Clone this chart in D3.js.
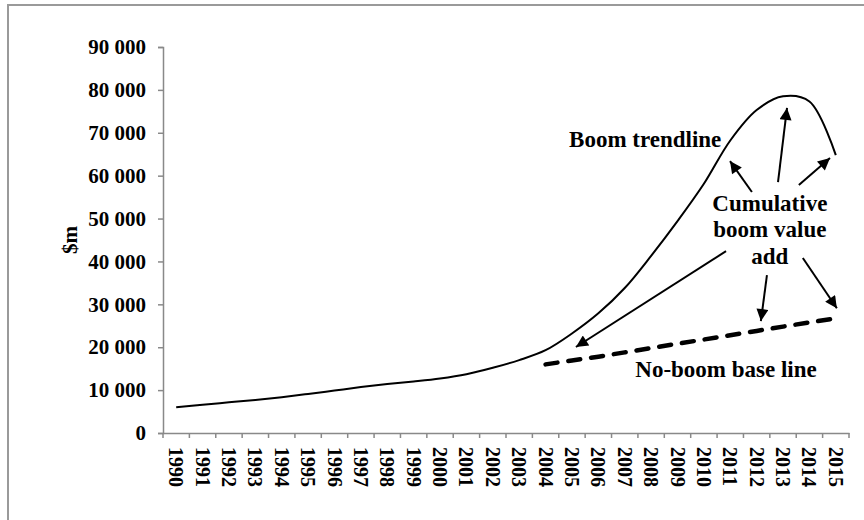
<!DOCTYPE html>
<html>
<head>
<meta charset="utf-8">
<script src="https://cdn.jsdelivr.net/npm/d3@7"></script>
<style>
  html, body { margin: 0; padding: 0; background: #fff; }
  svg { display: block; font-family: "Liberation Serif", "Times New Roman", serif; font-weight: bold; }
</style>
</head>
<body>
<svg id="chart" width="864" height="520"></svg>
<script>
// ---- data ----
const years = ["1990","1991","1992","1993","1994","1995","1996","1997","1998","1999","2000","2001","2002","2003","2004","2005","2006","2007","2008","2009","2010","2011","2012","2013","2014","2015"];
const boomValues = [6000, 6600, 7150, 7700, 8350, 9100, 9900, 10700, 11400, 12000, 12700, 13700, 15200, 17000, 19300, 23200, 27900, 33800, 41300, 49400, 58100, 68200, 75300, 78500, 77300, 64800];
const baseYears = ["2004","2005","2006","2007","2008","2009","2010","2011","2012","2013","2014","2015"];
const baseValues = [16000, 16900, 17800, 18800, 19800, 20800, 21800, 22800, 23800, 24800, 25800, 26700];
const yTicks = [0, 10000, 20000, 30000, 40000, 50000, 60000, 70000, 80000, 90000];
const yAxisTitle = "$m";
// annotations in data units (fractional year, value)
const labels = [
  { text: ["Boom trendline"], year: 2004.89, value: 66700, anchor: "start" },
  { text: ["Cumulative", "boom value", "add"], year: 2012.50, value: 51800, anchor: "middle" },
  { text: ["No-boom base line"], year: 2010.84, value: 13100, anchor: "middle" }
];
const arrows = [
  { from: [2011.82, 56200], to: [2010.99, 63400] },
  { from: [2012.81, 58500], to: [2013.15, 75800] },
  { from: [2013.60, 57800], to: [2014.78, 64100] },
  { from: [2010.84, 42400], to: [2005.15, 20050] },
  { from: [2012.39, 36800], to: [2012.16, 26100] },
  { from: [2013.75, 40800], to: [2015.04, 29100] }
];

// ---- layout ----
const svg = d3.select("#chart");
const mLeft = 163, mRight = 849, mTop = 47, mBottom = 433;
const axisColor = "#898989";

// outer frame (extends beyond the picture on right/bottom)
svg.append("rect").attr("x", 8).attr("y", 5).attr("width", 900).attr("height", 560)
  .attr("fill", "none").attr("stroke", "#9a9a9a").attr("stroke-width", 2);

const x = d3.scaleBand().domain(years).range([mLeft, mRight]).padding(0);
const y = d3.scaleLinear().domain([0, 90000]).range([mBottom, mTop]);
const bw = x.bandwidth();
const xl = d3.scaleLinear().domain([1990, 2015]).range([x("1990") + bw / 2, x("2015") + bw / 2]);

// y axis
const fmt = v => d3.format(",")(v).replace(/,/g, " ");
const yAxis = svg.append("g").attr("transform", `translate(${mLeft},0)`)
  .call(d3.axisLeft(y).tickValues(yTicks).tickFormat(fmt).tickSize(5).tickPadding(12));
yAxis.select(".domain").attr("stroke", axisColor).attr("stroke-width", 1.5);
yAxis.selectAll(".tick line").attr("stroke", axisColor).attr("stroke-width", 1.5);
yAxis.selectAll(".tick text").attr("fill", "#000").style("font-size", "21px")
  .style("font-family", "'Liberation Serif', serif").style("font-weight", "bold");

// x axis
const xAxis = svg.append("g").attr("transform", `translate(0,${mBottom})`)
  .call(d3.axisBottom(x).tickSize(0).tickSizeOuter(0));
xAxis.select(".domain").attr("stroke", axisColor).attr("stroke-width", 1.5);
xAxis.selectAll(".tick line").remove();
// boundary tick marks
const bounds = years.map(d => x(d)).concat([mRight]);
xAxis.selectAll(".bt").data(bounds).enter().append("line")
  .attr("x1", d => d).attr("x2", d => d).attr("y1", 0).attr("y2", 5)
  .attr("stroke", axisColor).attr("stroke-width", 1.5);
xAxis.selectAll(".tick text")
  .attr("transform", "rotate(90)")
  .attr("x", 14).attr("y", 0).attr("dy", "0.35em")
  .attr("text-anchor", "start")
  .attr("fill", "#000").style("font-size", "20px")
  .style("font-family", "'Liberation Serif', serif").style("font-weight", "bold");

// y axis title
svg.append("text").attr("transform", `translate(77,${(mTop + mBottom) / 2})rotate(-90)`)
  .attr("text-anchor", "middle").style("font-size", "21px").text(yAxisTitle);

// boom line
const line = d3.line().x((d, i) => x(years[i]) + bw / 2).y(d => y(d)).curve(d3.curveCatmullRom.alpha(0.5));
svg.append("path").datum(boomValues).attr("d", line)
  .attr("fill", "none").attr("stroke", "#000").attr("stroke-width", 2);

// base line (dashed)
const bline = d3.line().x((d, i) => x(baseYears[i]) + bw / 2).y(d => y(d));
svg.append("path").datum(baseValues).attr("d", bline)
  .attr("fill", "none").attr("stroke", "#000").attr("stroke-width", 4.5)
  .attr("stroke-dasharray", "12,11").attr("stroke-linecap", "round");

// arrow marker
svg.append("defs").append("marker").attr("id", "ah")
  .attr("viewBox", "0 0 10 10").attr("refX", 10).attr("refY", 5)
  .attr("markerUnits", "userSpaceOnUse").attr("markerWidth", 14).attr("markerHeight", 12)
  .attr("orient", "auto")
  .append("path").attr("d", "M0,0 L10,5 L0,10 z").attr("fill", "#000");

svg.selectAll(".arrow").data(arrows).enter().append("line")
  .attr("x1", d => xl(d.from[0])).attr("y1", d => y(d.from[1]))
  .attr("x2", d => xl(d.to[0])).attr("y2", d => y(d.to[1]))
  .attr("stroke", "#000").attr("stroke-width", 2).attr("marker-end", "url(#ah)");

// labels
labels.forEach(l => {
  const t = svg.append("text").attr("x", xl(l.year)).attr("y", y(l.value))
    .attr("text-anchor", l.anchor).style("font-size", "23px");
  l.text.forEach((s, i) => {
    t.append("tspan").attr("x", xl(l.year)).attr("dy", i === 0 ? 0 : "1.15em").text(s);
  });
});
</script>
</body>
</html>
